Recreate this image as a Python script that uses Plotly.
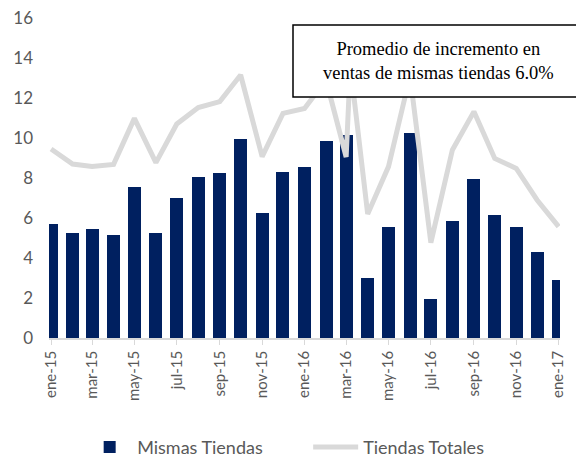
import plotly.graph_objects as go

# monthly data, ene-15 .. ene-17
months = ["2015-01-01", "2015-02-01", "2015-03-01", "2015-04-01", "2015-05-01", "2015-06-01",
          "2015-07-01", "2015-08-01", "2015-09-01", "2015-10-01", "2015-11-01", "2015-12-01",
          "2016-01-01", "2016-02-01", "2016-03-01", "2016-04-01", "2016-05-01", "2016-06-01",
          "2016-07-01", "2016-08-01", "2016-09-01", "2016-10-01", "2016-11-01", "2016-12-01",
          "2017-01-01"]
mismas_tiendas = [5.7, 5.25, 5.45, 5.15, 7.55, 5.25, 7.0, 8.05, 8.25, 9.95, 6.25, 8.3,
                  8.55, 9.85, 10.15, 3.0, 5.55, 10.25, 1.95, 5.85, 7.95, 6.15, 5.55, 4.3, 2.9]

# the grey series has one extra reading shortly after mar-16
totales_dates = months[:15] + ["2016-03-07"] + months[15:]
tiendas_totales = [9.45, 8.7, 8.57, 8.68, 10.98, 8.77, 10.7, 11.52, 11.82, 13.15, 9.07, 11.23,
                   11.48, 12.9, 9.05, 13.6, 6.2, 8.57, 13.1, 4.77, 9.4, 11.32, 8.98, 8.48, 6.9, 5.57]

tick_dates = months[::2]
tick_labels = ["ene-15", "mar-15", "may-15", "jul-15", "sep-15", "nov-15", "ene-16",
               "mar-16", "may-16", "jul-16", "sep-16", "nov-16", "ene-17"]

fig = go.Figure()
fig.add_trace(go.Bar(x=months, y=mismas_tiendas, name="Mismas Tiendas",
                     marker=dict(color="#002060", line=dict(width=0)),
                     width=18.7 * 86400000))
fig.add_trace(go.Scatter(x=totales_dates, y=tiendas_totales, name="Tiendas Totales",
                         mode="lines", line=dict(color="#D9D9D9", width=5)))

# text box over the top right of the plot
fig.add_shape(type="rect", xref="paper", yref="paper", x0=0.4775, x1=1.045, y0=0.753, y1=0.978,
              line=dict(color="black", width=1.5), fillcolor="white", layer="above")
fig.add_annotation(xref="paper", yref="paper", x=0.762, y=0.866, xanchor="center", yanchor="middle",
                   showarrow=False,
                   text="Promedio de incremento en<br>ventas de mismas tiendas 6.0%",
                   font=dict(family="Liberation Serif", size=18.5, color="black"))

# the page body adds an 8px offset, so left/top margins are 8px smaller
fig.update_layout(
    width=584, height=457,
    margin=dict(l=41, r=32, t=10, b=127),
    plot_bgcolor="white", paper_bgcolor="white",
    font=dict(family="Lato", color="#595959"),
    bargap=0,
    showlegend=True,
    legend=dict(orientation="h", xref="container", yref="container",
                x=0.127, xanchor="left", y=0.039, yanchor="middle",
                entrywidth=166, entrywidthmode="pixels",
                font=dict(size=18, color="#595959"), itemwidth=45, traceorder="normal"),
    xaxis=dict(type="date", range=["2014-12-29", "2017-01-03"], automargin=False,
               tickvals=tick_dates, ticktext=tick_labels, tickangle=-90,
               tickfont=dict(size=15, color="#595959"),
               showgrid=False, showline=True, linecolor="#D9D9D9", linewidth=1.5,
               ticks="outside", ticklen=5, tickcolor="#D9D9D9", zeroline=False),
    yaxis=dict(range=[0, 16], dtick=2, showgrid=False, zeroline=False, showline=False,
               automargin=False, ticklabeloverflow="allow",
               tickfont=dict(size=17, color="#595959"), ticklabelstandoff=15),
)

fig.write_html("out.html")
